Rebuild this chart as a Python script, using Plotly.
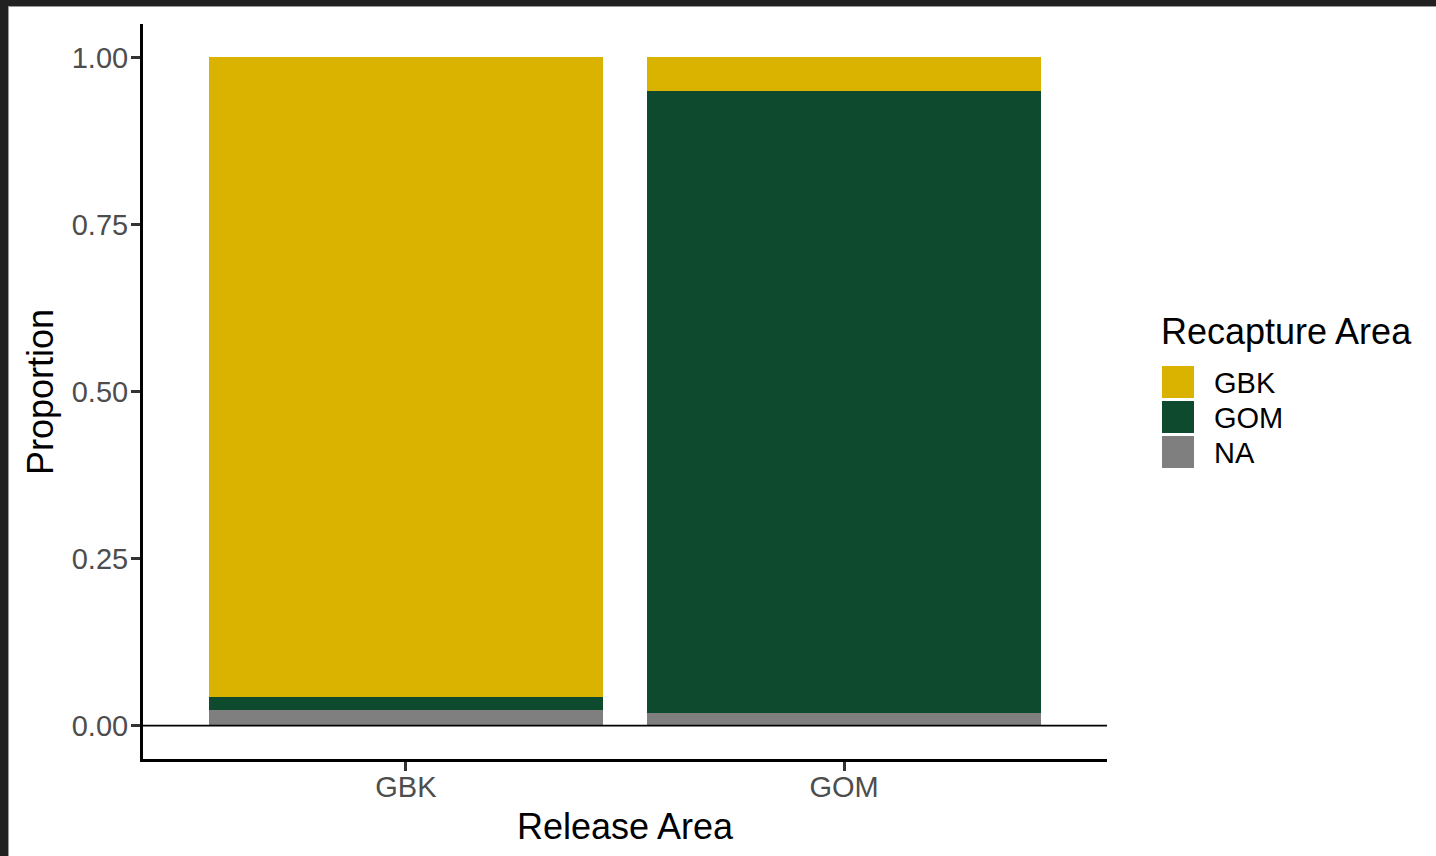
import plotly.graph_objects as go

# Proportion of recaptures by release area, stacked by recapture area
release_areas = ["GBK", "GOM"]
recapture_areas = ["NA", "GOM", "GBK"]          # stacking order, bottom to top
prop_na = [0.024, 0.019]
prop_gom = [0.019, 0.930]
prop_gbk = [0.957, 0.051]
y_ticks = [0.00, 0.25, 0.50, 0.75, 1.00]
y_tick_text = ["0.00", "0.25", "0.50", "0.75", "1.00"]

colors = {"GBK": "#D9B300", "GOM": "#0D4A2E", "NA": "#7F7F7F"}
values = {"NA": prop_na, "GOM": prop_gom, "GBK": prop_gbk}

W, H = 1436, 856
L, R, T, B = 143, 1107, 24, 759   # plot area in pixels
FONT = "Liberation Sans, Arial, sans-serif"

fig = go.Figure()
for area in recapture_areas:
    fig.add_trace(go.Bar(
        x=release_areas, y=values[area], name=area,
        marker=dict(color=colors[area], line=dict(width=0)),
        width=0.9, showlegend=False,
    ))


def px(x):
    return (x - L) / (R - L)


def py(y):
    return (B - y) / (B - T)


shapes = [
    # reference line at zero
    dict(type="line", xref="paper", yref="y", x0=0, x1=1, y0=0, y1=0,
         line=dict(color="black", width=1.6), layer="above"),
    # dark window frame along the top and left edge
    dict(type="rect", xref="paper", yref="paper", x0=px(0), x1=px(W), y0=py(0), y1=py(6),
         fillcolor="#212121", line=dict(width=0), layer="above"),
    dict(type="rect", xref="paper", yref="paper", x0=px(0), x1=px(8), y0=py(0), y1=py(H),
         fillcolor="#212121", line=dict(width=0), layer="above"),
    dict(type="line", xref="paper", yref="paper", x0=px(8), x1=px(W), y0=py(6.5), y1=py(6.5),
         line=dict(color="#9a9a9a", width=1), layer="above"),
    dict(type="line", xref="paper", yref="paper", x0=px(8.5), x1=px(8.5), y0=py(6), y1=py(H),
         line=dict(color="#9a9a9a", width=1), layer="above"),
]

annotations = [
    dict(text="Release Area", xref="paper", yref="paper", x=px(625), y=py(826),
         xanchor="center", yanchor="middle", showarrow=False,
         font=dict(family=FONT, size=36, color="black")),
    dict(text="Proportion", xref="paper", yref="paper", x=px(41), y=py(392),
         xanchor="center", yanchor="middle", showarrow=False, textangle=-90,
         font=dict(family=FONT, size=36, color="black")),
    dict(text="Recapture Area", xref="paper", yref="paper", x=px(1159), y=py(331),
         xanchor="left", yanchor="middle", showarrow=False,
         font=dict(family=FONT, size=36, color="black")),
]

# legend keys, top to bottom
legend_order = ["GBK", "GOM", "NA"]
for i, area in enumerate(legend_order):
    top = 366 + 35 * i
    shapes.append(dict(type="rect", xref="paper", yref="paper",
                       x0=px(1162), x1=px(1194), y0=py(top + 32), y1=py(top),
                       fillcolor=colors[area], line=dict(width=0)))
    annotations.append(dict(text=area, xref="paper", yref="paper",
                            x=px(1212), y=py(top + 17), xanchor="left", yanchor="middle",
                            showarrow=False, font=dict(family=FONT, size=29, color="black")))

fig.update_layout(
    width=W, height=H,
    margin=dict(l=L, r=W - R, t=T, b=H - B, pad=0),
    paper_bgcolor="white", plot_bgcolor="white",
    barmode="stack", bargap=0.1,
    font=dict(family=FONT),
    shapes=shapes, annotations=annotations,
    xaxis=dict(
        range=[-0.6, 1.6], showgrid=False, zeroline=False,
        showline=True, linecolor="black", linewidth=3,
        ticks="outside", ticklen=9, tickwidth=2.5, tickcolor="#333333",
        ticklabelstandoff=-9,
        tickfont=dict(family=FONT, size=29, color="#4D4D4D"),
    ),
    yaxis=dict(
        range=[-0.05, 1.05], showgrid=False, zeroline=False,
        showline=True, linecolor="black", linewidth=3,
        tickvals=y_ticks, ticktext=y_tick_text,
        ticks="outside", ticklen=9, tickwidth=2.5, tickcolor="#333333",
        ticklabelstandoff=-3,
        tickfont=dict(family=FONT, size=29, color="#4D4D4D"),
    ),
)

fig.write_html("out.html")
